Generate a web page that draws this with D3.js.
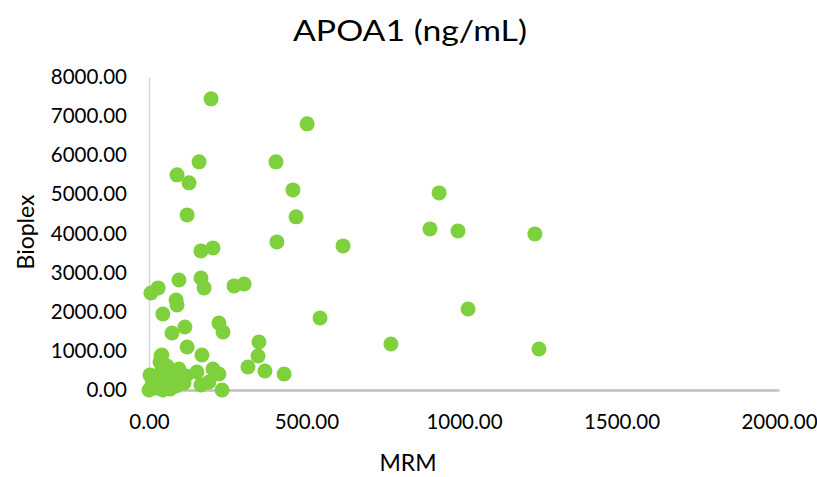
<!DOCTYPE html>
<html><head><meta charset="utf-8">
<script src="https://cdn.jsdelivr.net/npm/d3@7/dist/d3.min.js"></script>
<style>body{margin:0;background:#fff}svg{display:block}text{font-family:Lato,"Open Sans",sans-serif;fill:#000}</style>
</head><body><svg id="c" width="817" height="477"></svg>
<script>
const title = "APOA1 (ng/mL)";
const xLabel = "MRM";
const yLabel = "Bioplex";
const xTicks = [0, 500, 1000, 1500, 2000];
const yTicks = [0, 1000, 2000, 3000, 4000, 5000, 6000, 7000, 8000];
const mrm = [197,502,159,89,127,121,403,457,467,406,165,203,29,6,95,165,175,86,89,44,270,302,222,235,114,73,121,168,38,349,346,314,368,429,152,203,222,165,190,232,95,543,768,1013,616,921,892,981,1225,1238,
  0,10,25,44,67,86,19,38,57,35,73,98,111,51,67,3,92,117,41];
const bioplex = [7442,6803,5831,5499,5294,4476,5831,5115,4425,3785,3555,3632,2609,2481,2813,2864,2609,2302,2174,1944,2660,2711,1714,1483,1611,1458,1100,895,870,1228,870,588,486,409,460,537,409,128,205,0,537,1841,1176,2072,3683,5038,4118,4066,3990,1049,
  0,153,51,0,26,102,307,460,614,716,307,256,179,205,460,384,460,358,895];

const svg = d3.select("#c");
const x = d3.scaleLinear().domain([0,2000]).range([149,779]);
const y = d3.scaleLinear().domain([0,8000]).range([390,77]);

svg.append("text").attr("x",410).attr("y",41).attr("text-anchor","middle").attr("font-size",28)
  .attr("textLength",234).attr("lengthAdjust","spacingAndGlyphs").text(title);

const xa = svg.append("g").attr("transform","translate(0,390)")
  .call(d3.axisBottom(x).tickValues(xTicks).tickFormat(d3.format(".2f")).tickSize(0).tickPadding(24));
xa.select(".domain").attr("stroke","#bfbfbf").attr("stroke-width",2.5);
xa.selectAll("text").attr("font-size",20.5).attr("font-family","Lato");

const ya = svg.append("g").attr("transform","translate(149,0)")
  .call(d3.axisLeft(y).tickValues(yTicks).tickFormat(d3.format(".2f")).tickSize(0).tickPadding(22));
ya.select(".domain").attr("stroke","#d9d9d9").attr("stroke-width",1.5);
ya.selectAll("text").attr("font-size",20.5).attr("font-family","Lato");

svg.append("text").attr("x",408).attr("y",471).attr("text-anchor","middle").attr("font-size",23).text(xLabel);
svg.append("text").attr("transform","translate(34,232) rotate(-90)").attr("text-anchor","middle").attr("font-size",23).text(yLabel);

svg.append("g").selectAll("circle").data(mrm.map((m,i)=>[m,bioplex[i]])).join("circle")
  .attr("cx",d=>x(d[0])).attr("cy",d=>y(d[1])).attr("r",7.5).attr("fill","#7ed13c");
</script></body></html>
